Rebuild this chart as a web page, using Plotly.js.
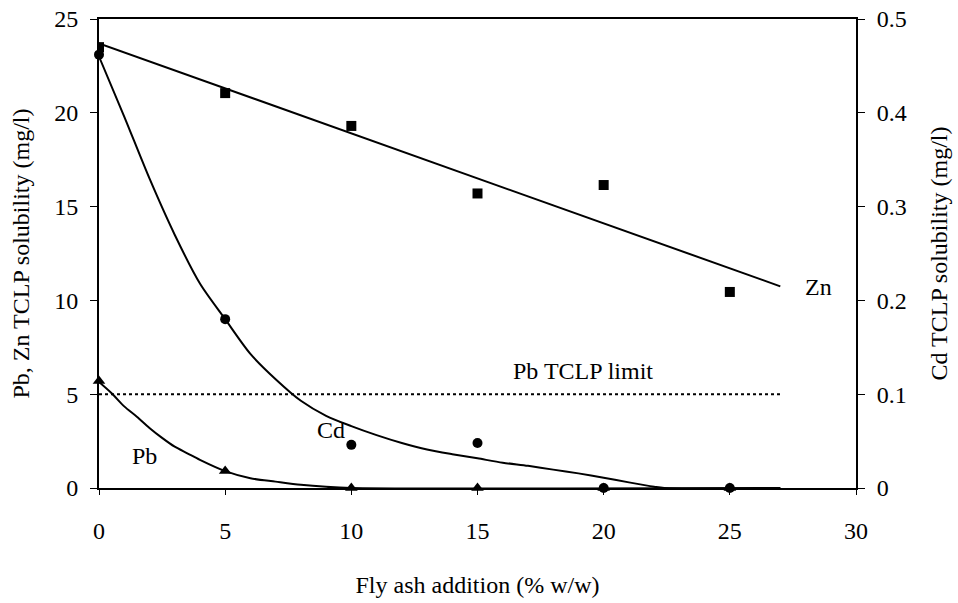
<!DOCTYPE html>
<html>
<head>
<meta charset="utf-8">
<script src="https://cdn.plot.ly/plotly-3.0.1.min.js"></script>
<style>html,body{margin:0;padding:0;background:#fff;}#chart{width:958px;height:603px;}</style>
</head>
<body>
<div id="chart"></div>
<script>
// Measured points
const xPts = [0, 5, 10, 15, 20, 25];
const znPts = [23.5, 21.05, 19.3, 15.7, 16.15, 10.45];
const pbPts = [5.7, 0.9, 0, 0, 0, 0];
const cdPts = [0.462, 0.18, 0.046, 0.048, 0, 0];

// Trend lines
const znLineX = [0, 27];
const znLineY = [23.7, 10.75];
const cdCurveX = [0, 1, 2, 3, 4, 5, 6, 7, 8, 9, 10, 11, 12, 13, 14, 15, 16, 17, 18, 19, 20, 21, 22, 22.4, 27];
const cdCurveY = [0.46, 0.396, 0.33, 0.27, 0.218, 0.18, 0.143, 0.116, 0.093, 0.077, 0.066, 0.0564, 0.048, 0.041, 0.036, 0.0316, 0.027, 0.0236, 0.0196, 0.0156, 0.011, 0.006, 0.0014, 0, 0];
const pbCurveX = [0, 0.5, 1, 1.5, 2, 2.5, 3, 3.5, 4, 5, 6, 7, 8, 9, 10, 27];
const pbCurveY = [5.65, 5.05, 4.35, 3.8, 3.2, 2.67, 2.2, 1.85, 1.5, 0.9, 0.52, 0.34, 0.17, 0.06, 0, 0];
const limitX = [0, 27];
const limitY = [5, 5];

const font = "'Liberation Serif', 'Times New Roman', serif";
const black = '#000';
const fs = 24;

const traces = [
  {x: limitX, y: limitY, mode: 'lines', line: {color: black, width: 2, dash: 'dot'}, yaxis: 'y', hoverinfo: 'skip'},
  {x: znLineX, y: znLineY, mode: 'lines', line: {color: black, width: 2}, yaxis: 'y'},
  {x: pbCurveX, y: pbCurveY, mode: 'lines', line: {color: black, width: 2, shape: 'spline', smoothing: 0.8}, yaxis: 'y'},
  {x: cdCurveX, y: cdCurveY, mode: 'lines', line: {color: black, width: 2, shape: 'spline', smoothing: 0.8}, yaxis: 'y2'},
  {x: xPts, y: znPts, mode: 'markers', name: 'Zn', marker: {symbol: 'square', size: 10, color: black}, yaxis: 'y'},
  {x: xPts, y: pbPts, mode: 'markers', name: 'Pb', marker: {symbol: 'triangle-up', size: 11, color: black}, yaxis: 'y', cliponaxis: false},
  {x: xPts, y: cdPts, mode: 'markers', name: 'Cd', marker: {symbol: 'circle', size: 10, color: black}, yaxis: 'y2', cliponaxis: false}
];

const tf = {family: font, size: fs, color: black};

const layout = {
  width: 958, height: 603,
  margin: {l: 99, r: 102, t: 19, b: 115},
  paper_bgcolor: '#fff', plot_bgcolor: '#fff',
  showlegend: false,
  font: tf,
  xaxis: {
    range: [0, 30], dtick: 5, tick0: 0,
    showgrid: false, zeroline: false,
    showline: true, linecolor: black, linewidth: 2, mirror: true,
    ticks: 'outside', ticklen: 5, tickcolor: black, tickwidth: 1,
    ticklabelstandoff: 15,
    tickfont: tf,
    title: {text: 'Fly ash addition (% w/w)', font: tf, standoff: 33}
  },
  yaxis: {
    range: [0, 25], dtick: 5, tick0: 0,
    showgrid: false, zeroline: false,
    showline: true, linecolor: black, linewidth: 2,
    ticks: 'outside', ticklen: 7, tickcolor: black, tickwidth: 1,
    ticklabelstandoff: 7,
    tickfont: tf,
    title: {text: 'Pb, Zn TCLP solubility (mg/l)', font: tf, standoff: 18}
  },
  yaxis2: {
    range: [0, 0.5], dtick: 0.1, tick0: 0,
    overlaying: 'y', side: 'right',
    showgrid: false, zeroline: false,
    showline: true, linecolor: black, linewidth: 2,
    ticks: 'outside', ticklen: 7, tickcolor: black, tickwidth: 1,
    ticklabelstandoff: 7,
    tickfont: tf,
    title: {text: 'Cd TCLP solubility (mg/l)', font: tf, standoff: 24}
  },
  annotations: [
    {x: 28.5, y: 10.7, xref: 'x', yref: 'y', text: 'Zn', showarrow: false, font: tf},
    {x: 19.2, y: 6.25, xref: 'x', yref: 'y', text: 'Pb TCLP limit', showarrow: false, font: tf},
    {x: 9.2, y: 3.1, xref: 'x', yref: 'y', text: 'Cd', showarrow: false, font: tf},
    {x: 1.8, y: 1.7, xref: 'x', yref: 'y', text: 'Pb', showarrow: false, font: tf}
  ]
};

Plotly.newPlot('chart', traces, layout, {displayModeBar: false, staticPlot: true});
</script>
</body>
</html>
